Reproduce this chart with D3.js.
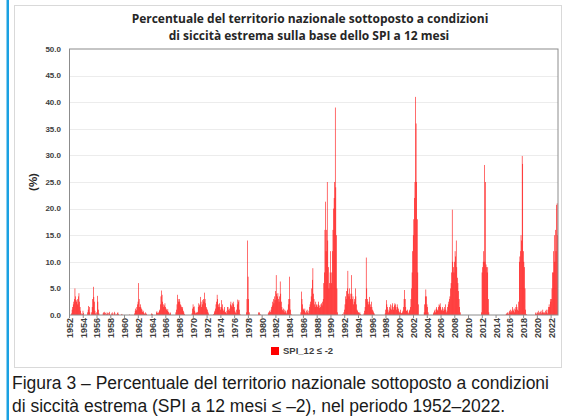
<!DOCTYPE html>
<html>
<head>
<meta charset="utf-8">
<script src="https://cdn.jsdelivr.net/npm/d3@7"></script>
<style>
  body { margin: 0; background: #fff; }
  svg { display: block; }
</style>
</head>
<body>
<div id="chart"></div>
<script>
// monthly % of territory with SPI_12 <= -2, one row per year (Jan..Dec)
var spi1950s = [
  [0,0,0,0.3,1.0,1.5,2.0,2.5,3.0,5.0,3.5,2.8],
  [2.5,3.0,2.0,3.5,4.1,2.5,1.5,0.8,0.3,0,0.2,0.8],
  [0.4,0,0,0,0,0,0,0.5,1.0,1.7,1.5,0.5],
  [0,0,0.5,1.5,3.0,5.3,3.4,2.5,0.8,0.3,0,0.5],
  [3.6,2.5,1.0,0.3,0,0,0,0,0,0,0.3,0.5],
  [0.3,0.6,0.4,0,0.2,0.5,0.3,0,0.4,0.6,0.2,0],
  [0,0.3,0.5,0.2,0,0.3,0.6,0.3,0,0,0.2,0.4],
  [0.5,0.2,0,0,0,0,0.1,0.2,0,0,0,0]
];
var spi1960s = [
  [0,0,0,0,0,0,0,0,0.1,0,0,0],
  [0,0,0,0,0,0.3,0.8,1.2,0.9,1.5,2.0,2.5],
  [6.0,3.0,1.5,2.0,1.5,1.2,1.0,0.6,0.8,0.5,0.3,0.2],
  [0.5,0.3,0.2,0,0,0,0,0,0,0,0.2,0.3],
  [0.2,0,0,0,0,0,0,0.5,0.7,0.4,0.3,0.5],
  [0.8,1.0,2.0,3.5,4.6,3.8,2.5,2.0,1.5,1.8,2.2,1.5],
  [1.2,1.0,0.8,1.1,0.6,0.4,0.2,0.5,0.3,0,0,0],
  [0,0,0,0,0,0.5,1.0,2.0,3.8,3.0,2.5,3.0],
  [2.5,2.0,1.8,1.5,1.2,1.5,0.8,0.5,0.2,0,0,0],
  [0,0,0,0,0,0,0,0,0,0.3,1.2,2.0]
];
var spi1970s = [
  [1.5,1.6,0.8,0.3,0.5,0.4,0.6,0.5,1.5,2.2,1.8,2.0],
  [3.4,2.5,1.5,2.0,2.8,3.0,2.5,4.2,3.0,2.2,1.5,1.2],
  [1.0,0.6,0.3,0,0,0,0,0,0,0,0,0.2],
  [0.5,0.8,1.2,2.0,2.5,3.8,3.0,2.0,1.5,2.2,1.5,1.0],
  [1.5,2.8,2.0,1.2,0.8,1.0,1.5,0.6,0.5,0.3,0.8,1.5],
  [1.5,1.0,0.8,1.2,2.0,2.5,1.8,1.5,2.2,2.5,2.0,1.5],
  [0.8,0.5,0.3,1.0,2.0,2.9,2.5,2.8,1.0,0.2,0,0],
  [0,0,0,0,0,0,0,0,0.5,3.0,14.0,7.2],
  [3.0,0.5,0,0,0,0,0,0,0,0,0,0],
  [0,0,0,0,0,0.5,0.3,0.5,0.2,0,0,0]
];
var spi1980s = [
  [0,0,0,0,0,0,0,0,0,0,0.3,0.5],
  [0.8,0.5,0.6,1.0,1.5,1.8,2.5,3.0,2.2,3.5,2.8,4.5],
  [7.5,4.0,3.5,4.1,3.0,2.5,3.5,6.3,4.0,2.5,1.5,1.0],
  [0.8,1.2,0.5,1.0,0.8,0.5,0.3,0.8,1.0,2.0,3.0,7.2],
  [3.0,1.0,0.2,0,0,0,0,0,0,0,0,0],
  [0,0,0,0,0,0,0,0.5,4.4,3.0,2.0,1.2],
  [1.0,0.8,1.2,0.5,0.3,0.8,1.0,0.5,0.3,0.8,1.5,2.0],
  [2.5,3.5,5.0,6.6,8.8,4.0,3.0,2.0,1.5,2.5,2.0,1.8],
  [1.5,2.0,2.5,1.8,1.3,1.5,2.0,2.2,1.8,2.5,3.0,6.0],
  [8.0,16.0,21.3,12.0,16.0,25.0,14.0,9.0,5.0,6.0,8.0,12.0]
];
var spi1990s = [
  [6.0,8.0,12.0,16.0,20.0,22.0,25.0,39.0,24.0,15.0,5.0,0.5],
  [0,0,0,0,0,0,0,0,0.2,0,0.5,1.0],
  [2.0,3.5,3.0,4.5,5.0,8.3,4.0,3.5,5.0,4.0,3.0,7.5],
  [4.0,3.0,3.5,2.0,2.5,3.0,5.0,3.5,2.0,1.0,0.8,0.5],
  [0.5,0.3,0.5,0.2,0,0,0,0,0,0.3,0.8,1.5],
  [3.0,10.8,5.0,3.0,2.5,2.0,2.5,3.4,2.0,1.5,2.5,1.5],
  [1.0,0.8,0.5,0.3,0,0,0,0,0,0,0,0],
  [0,0,0,0,0,0,0,0,0,0,0.3,1.0],
  [2.8,2.0,1.5,1.0,0.5,0.8,1.5,2.0,1.2,1.0,1.8,2.2],
  [1.5,1.0,1.8,2.2,2.0,1.5,1.0,2.0,1.5,1.2,0.8,0.5]
];
var spi2000s = [
  [0.5,1.0,0.4,0.3,0.5,0.8,1.5,3.0,4.7,3.0,1.5,0.8],
  [0.8,1.0,0.5,0.3,0.8,1.0,1.5,3.0,5.0,8.0,12.0,15.0],
  [18.0,22.0,25.0,41.0,36.0,25.0,18.0,8.0,2.0,0,0,0],
  [0,0,0,0,0,0,0.5,2.0,3.5,4.8,3.5,2.0],
  [1.5,0.5,0,0,0,0,0,0,0,0,0.3,0.5],
  [0.8,1.0,0.5,1.2,1.5,1.0,0.8,1.5,2.0,1.8,2.2,1.5],
  [1.0,0.8,1.5,1.2,0.8,1.0,1.5,2.0,1.0,0.5,0.8,1.5],
  [2.0,2.5,3.0,3.5,5.0,6.0,8.0,19.8,10.0,9.0,8.0,10.0],
  [12.0,11.0,14.0,9.0,7.0,6.0,4.5,3.0,1.5,0.5,0,0],
  [0,0,0,0,0,0,0,0,0,0,0,0]
];
var spi2010s = [
  [0,0,0,0,0,0,0,0,0,0,0,0],
  [0,0,0,0,0,0,0,0,0,0,0.5,8.0],
  [9.0,10.0,12.0,28.2,10.0,25.0,9.5,9.0,8.0,9.0,3.0,0.5],
  [0,0,0,0,0,0,0,0,0,0,0,0],
  [0,0,0,0,0,0,0,0,0,0,0,0],
  [0,0,0,0,0,0.2,0.3,0.5,0.3,0.2,0.5,0.8],
  [0.5,1.0,0.8,0.5,1.5,1.0,0.8,1.2,0.5,1.0,1.5,2.0],
  [1.5,1.0,0.8,2.5,10.0,11.0,12.0,15.0,14.0,29.9,28.4,12.0],
  [10.0,9.0,5.0,1.0,0.2,0,0,0,0,0,0,0],
  [0,0,0,0,0,0,0,0,0.3,0.5,0.2,0.3]
];
var spi2020s = [
  [0.5,0.8,0.3,0.5,0.2,0.6,0.8,0.3,0.5,1.0,0.5,0.3],
  [0.5,0.3,0.8,1.0,0.5,0.3,1.0,1.5,2.0,1.5,3.0,2.5],
  [3.0,5.0,8.0,8.0,12.0,15.0,10.0,16.0,12.0,20.7,21.0,15.0]
];

var firstYear = 1952;
var yTicks = [0, 5, 10, 15, 20, 25, 30, 35, 40, 45, 50];
var xTickYears = [1952, 1954, 1956, 1958, 1960, 1962, 1964, 1966, 1968, 1970, 1972,
  1974, 1976, 1978, 1980, 1982, 1984, 1986, 1988, 1990, 1992, 1994, 1996, 1998,
  2000, 2002, 2004, 2006, 2008, 2010, 2012, 2014, 2016, 2018, 2020, 2022];
var seriesName = "SPI_12 \u2264 -2";

var rows = [].concat(spi1950s, spi1960s, spi1970s, spi1980s, spi1990s, spi2000s, spi2010s, spi2020s);
var months = [];
rows.forEach(function (r, yi) {
  r.forEach(function (v, m) {
    months.push({ idx: yi * 12 + m, year: firstYear + yi, month: m, value: v });
  });
});

var width = 568, height = 420;
var svg = d3.select("#chart").append("svg")
  .attr("width", width)
  .attr("height", height);

// left blue rule of the report page
svg.append("rect")
  .attr("x", 6.5).attr("y", 0)
  .attr("width", 2.5).attr("height", height)
  .style("fill", "#1ba1e2");

// chart frame
svg.append("rect")
  .attr("x", 14.5).attr("y", 5.5)
  .attr("width", 547).attr("height", 362)
  .style("fill", "#fff")
  .style("stroke", "#d9d9d9");

var plotL = 69.5, plotR = 558, plotT = 49, plotB = 315;

var x = d3.scaleBand()
  .domain(months.map(function (d) { return d.idx; }))
  .range([plotL, plotR])
  .padding(0);

var y = d3.scaleLinear()
  .domain([0, 50])
  .range([plotB, plotT]);

// gridlines
svg.append("g")
  .selectAll("line")
  .data(yTicks.filter(function (t) { return t > 0 && t < 50; }))
  .enter().append("line")
  .attr("x1", plotL).attr("x2", plotR)
  .attr("y1", function (d) { return Math.round(y(d)) + 0.5; })
  .attr("y2", function (d) { return Math.round(y(d)) + 0.5; })
  .style("stroke", "#ececec");

// bars
svg.append("g")
  .selectAll("rect")
  .data(months.filter(function (d) { return d.value > 0; }))
  .enter().append("rect")
  .attr("x", function (d) { return x(d.idx); })
  .attr("width", x.bandwidth())
  .attr("y", function (d) { return y(d.value); })
  .attr("height", function (d) { return plotB - y(d.value); })
  .style("fill", "#ff0000");

// plot border
svg.append("rect")
  .attr("x", plotL).attr("y", plotT)
  .attr("width", plotR - plotL).attr("height", plotB - plotT)
  .style("fill", "none")
  .style("stroke", "#8c8c8c")
  .style("stroke-width", 1);

// y axis labels
svg.append("g")
  .selectAll("text")
  .data(yTicks)
  .enter().append("text")
  .attr("x", 61)
  .attr("y", function (d) { return y(d); })
  .attr("dy", "0.35em")
  .style("text-anchor", "end")
  .style("font-family", "'Liberation Sans', Arial, sans-serif")
  .style("font-weight", "bold")
  .style("font-size", "8px")
  .style("fill", "#404040")
  .text(function (d) { return d.toFixed(1); });

// x ticks + labels
var xAxis = svg.append("g");
xAxis.selectAll("line")
  .data(xTickYears)
  .enter().append("line")
  .attr("x1", function (d) { return x((d - firstYear) * 12); })
  .attr("x2", function (d) { return x((d - firstYear) * 12); })
  .attr("y1", plotB).attr("y2", plotB + 3)
  .style("stroke", "#8c8c8c");

xAxis.selectAll("text")
  .data(xTickYears)
  .enter().append("text")
  .attr("transform", function (d) {
    var cx = x((d - firstYear) * 12) + x.bandwidth() / 2;
    return "translate(" + cx + "," + (plotB + 3) + ") rotate(-90)";
  })
  .attr("dy", "0.35em")
  .style("text-anchor", "end")
  .style("font-family", "'Liberation Sans', Arial, sans-serif")
  .style("font-weight", "bold")
  .style("font-size", "9px")
  .style("fill", "#404040")
  .text(function (d) { return d; });

// y axis title
svg.append("text")
  .attr("transform", "translate(33," + ((plotT + plotB) / 2) + ") rotate(-90)")
  .attr("dy", "0.35em")
  .style("text-anchor", "middle")
  .style("font-family", "'Liberation Sans', Arial, sans-serif")
  .style("font-weight", "bold")
  .style("font-size", "11.5px")
  .style("fill", "#262626")
  .text("(%)");

// chart title
var title = svg.append("g")
  .style("font-family", "'Open Sans', sans-serif")
  .style("font-weight", "bold")
  .style("font-size", "12px")
  .style("fill", "#262626")
  .style("text-anchor", "middle");
title.append("text").attr("x", 310).attr("y", 23)
  .text("Percentuale del territorio nazionale sottoposto a condizioni");
title.append("text").attr("x", 309).attr("y", 40)
  .text("di siccit\u00e0 estrema sulla base dello SPI a 12 mesi");

// legend
var legend = svg.append("g").attr("transform", "translate(271,347)");
legend.append("rect")
  .attr("width", 8).attr("height", 8)
  .style("fill", "#ff0000");
legend.append("text")
  .attr("x", 12).attr("y", 4)
  .attr("dy", "0.35em")
  .style("font-family", "'Liberation Sans', Arial, sans-serif")
  .style("font-weight", "bold")
  .style("font-size", "9.5px")
  .style("fill", "#404040")
  .text(seriesName);

// figure caption
var cap = svg.append("g")
  .style("font-family", "'Liberation Sans Narrow', 'Arial Narrow', sans-serif")
  .style("font-size", "17.5px")
  .style("fill", "#1a1a1a");
cap.append("text").attr("x", 12).attr("y", 389)
  .text("Figura 3 \u2013 Percentuale del territorio nazionale sottoposto  a condizioni");
cap.append("text").attr("x", 12).attr("y", 412)
  .text("di siccit\u00e0 estrema (SPI a 12 mesi \u2264 \u20132), nel periodo 1952\u20132022.");
</script>
</body>
</html>
